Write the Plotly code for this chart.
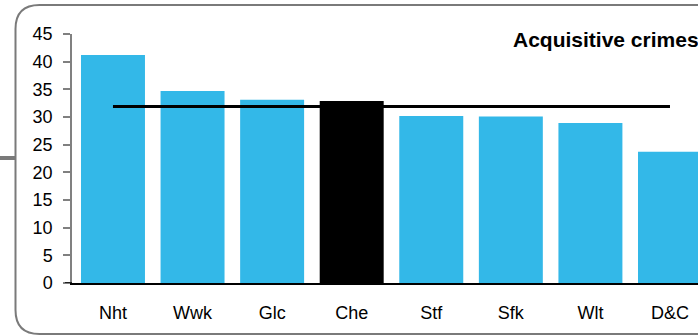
import plotly.graph_objects as go

categories = ["Nht", "Wwk", "Glc", "Che", "Stf", "Sfk", "Wlt", "D&C"]
values = [41.2, 34.7, 33.1, 32.9, 30.2, 30.1, 28.9, 23.7]
average = [31.9, 31.9]
average_x = ["Nht", "D&C"]
y_ticks = [0, 5, 10, 15, 20, 25, 30, 35, 40, 45]
title_text = "Acquisitive crimes"

BLUE = "#33b8e8"
HIGHLIGHT = "Che"
colors = ["#000000" if c == HIGHLIGHT else BLUE for c in categories]

W, H = 698, 336
L, R, T, B = 72, 0, 34, 53
pw, ph = W - L - R, H - T - B


def px(x):
    return (x - L) / pw


def py(y):
    return (H - B - y) / ph


FONT = "Liberation Sans, Arial, sans-serif"

fig = go.Figure()
fig.add_trace(go.Bar(x=categories, y=values, marker=dict(color=colors, line=dict(width=0)),
                     showlegend=False, hoverinfo="x+y"))
fig.add_trace(go.Scatter(x=average_x, y=average, mode="lines",
                         line=dict(color="#000000", width=3), showlegend=False))

# rounded outer frame (partially visible)
x_l, x_r, y_t, y_b, r = 15.5, 760, 5, 334, 24
path = (f"M {px(x_r)},{py(y_t)} L {px(x_l + r)},{py(y_t)} "
        f"Q {px(x_l)},{py(y_t)} {px(x_l)},{py(y_t + r)} "
        f"L {px(x_l)},{py(y_b - r)} "
        f"Q {px(x_l)},{py(y_b)} {px(x_l + r)},{py(y_b)} "
        f"L {px(x_r)},{py(y_b)}")
shapes = [
    dict(type="path", xref="paper", yref="paper", path=path,
         line=dict(color="#7a7a7a", width=2), layer="above"),
    dict(type="line", xref="paper", yref="paper", x0=px(0), x1=px(x_l), y0=py(158), y1=py(158),
         line=dict(color="#7a7a7a", width=4)),
    dict(type="line", xref="paper", yref="y", x0=px(65), x1=0, y0=0, y1=0,
         line=dict(color="#000000", width=1.5)),
]

fig.update_layout(
    width=W, height=H,
    margin=dict(l=L, r=R, t=T, b=B, pad=0),
    paper_bgcolor="white", plot_bgcolor="white",
    bargap=0.196,
    font=dict(family=FONT, color="#000000", size=17),
    shapes=shapes,
    annotations=[dict(text=f"<b>{title_text}</b>", xref="paper", yref="paper",
                      x=px(511), y=py(40), xanchor="left", yanchor="middle",
                      showarrow=False, font=dict(size=21, family=FONT, color="#000000"))],
    xaxis=dict(type="category", range=[-0.515, 7.352], showline=True, linecolor="#000000",
               linewidth=1.5, ticks="", showgrid=False, zeroline=False,
               tickfont=dict(size=18), ticklabelstandoff=13),
    yaxis=dict(range=[0, 45], tickvals=y_ticks, showline=True, linecolor="#808080",
               linewidth=1.5, ticks="outside", ticklen=7, tickcolor="#808080", tickwidth=1.5,
               showgrid=False, zeroline=False, tickfont=dict(size=18), ticklabelstandoff=7),
)

fig.write_html("out.html", config={"displayModeBar": False},
               post_script="document.body.style.margin='0';document.body.style.overflow='hidden';")
